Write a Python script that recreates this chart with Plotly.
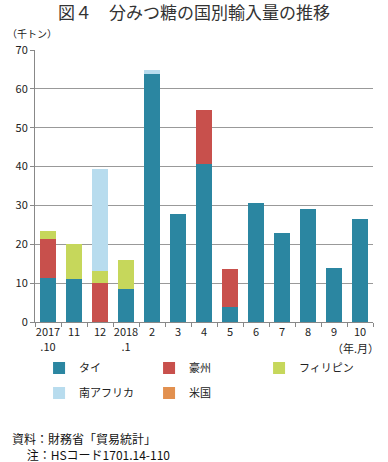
import plotly.graph_objects as go

categories = ["2017<br>.10", "11", "12", "2018<br>.1", "2", "3", "4", "5", "6", "7", "8", "9", "10"]
thai = [11.4, 11.0, 0.0, 8.5, 63.9, 27.8, 40.6, 3.8, 30.5, 23.0, 29.1, 13.9, 26.5]
australia = [9.9, 0.0, 10.0, 0.0, 0.0, 0.0, 14.0, 9.9, 0.0, 0.0, 0.0, 0.0, 0.0]
philippines = [2.2, 9.2, 3.1, 7.4, 0.0, 0.0, 0.0, 0.0, 0.0, 0.0, 0.0, 0.0, 0.0]
south_africa = [0.0, 0.0, 26.2, 0.0, 1.0, 0.0, 0.0, 0.0, 0.0, 0.0, 0.0, 0.0, 0.0]
usa = [0.0] * 13

series = [
    ("タイ", thai, "#2B86A1", "legend"),
    ("豪州", australia, "#C8504C", "legend"),
    ("フィリピン", philippines, "#C6D75B", "legend"),
    ("南アフリカ", south_africa, "#B8DCEE", "legend2"),
    ("米国", usa, "#E2904F", "legend2"),
]

FONT = "Noto Sans CJK JP"

fig = go.Figure()
for name, vals, col, lg in series:
    fig.add_trace(go.Bar(x=categories, y=vals, name=name, legend=lg,
                         marker=dict(color=col, line=dict(width=0))))

leg_common = dict(orientation="h", xanchor="left", yanchor="middle",
                  entrywidth=65, entrywidthmode="pixels", traceorder="normal",
                  font=dict(family=FONT, size=11, color="#222"), itemclick=False,
                  bgcolor="rgba(0,0,0,0)")

fig.update_layout(
    width=388, height=462,
    barmode="stack", bargap=0.42,
    margin=dict(l=35, r=15, t=50, b=140),
    paper_bgcolor="white", plot_bgcolor="white",
    font=dict(family=FONT, size=11, color="#222"),
    title=dict(text="図４　分みつ糖の国別輸入量の推移", x=0.5, xanchor="center", y=0.972, yanchor="middle",
               font=dict(family=FONT, size=17, color="#333")),
    showlegend=True,
    legend=dict(x=0.012, y=-0.169, **leg_common),
    legend2=dict(x=0.012, y=-0.261, **leg_common),
    xaxis=dict(type="category", showline=True, linecolor="#888", linewidth=1,
               ticks="outside", tickson="boundaries", ticklen=4, tickcolor="#888",
               tickangle=0, tickfont=dict(size=11, color="#222"), showgrid=False),
    yaxis=dict(range=[0, 70], dtick=10, showline=True, linecolor="#888", linewidth=1,
               ticks="outside", ticklen=4, tickcolor="#888",
               showgrid=True, gridcolor="#999", gridwidth=1,
               tickfont=dict(size=11, color="#222"), zeroline=False),
)

fig.add_annotation(text="（千トン）", xref="paper", yref="paper", x=-0.089, y=1.059,
                   xanchor="left", yanchor="middle", showarrow=False,
                   font=dict(family=FONT, size=10, color="#222"))
fig.add_annotation(text="（年.月）", xref="paper", yref="paper", x=0.947, y=-0.096,
                   xanchor="center", yanchor="middle", showarrow=False,
                   font=dict(family=FONT, size=11, color="#222"))
fig.add_annotation(text="資料：財務省「貿易統計」<br>\u3000&nbsp;注：HSコード1701.14-110",
                   xref="paper", yref="paper", x=-0.075, y=-0.459,
                   xanchor="left", yanchor="middle", align="left", showarrow=False,
                   font=dict(family=FONT, size=12, color="#111"))

fig.write_html("out.html", config={"displayModeBar": False},
               post_script="document.body.style.margin='0';document.body.style.padding='0';")
